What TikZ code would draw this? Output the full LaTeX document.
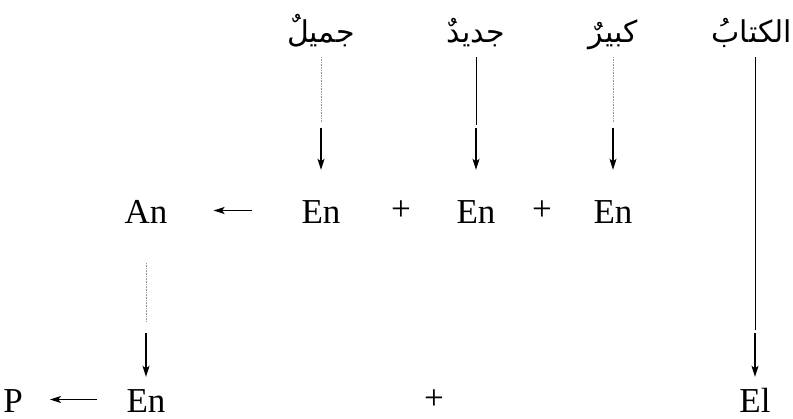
\documentclass[tikz,border=0pt]{standalone}
\usepackage{fontspec}
\setmainfont{Liberation Serif}
\newfontfamily\arabicfont[Script=Arabic]{DejaVu Sans}
\TeXXeTstate=1
\usetikzlibrary{arrows.meta}

\begin{document}
\begin{tikzpicture}[
    x=1pt, y=-1pt,
    word/.style={font=\arabicfont\fontsize{30}{34}\selectfont, inner sep=0pt, text depth=15pt, anchor=base},
    cat/.style={font=\fontsize{35}{40}\selectfont, inner sep=0pt, text height=25pt, text depth=0pt, anchor=base},
    plus/.style={font=\fontsize{35}{40}\selectfont, inner sep=0pt, anchor=base},
    arrow/.style={-{Stealth[length=11pt,width=7pt,inset=2.5pt]}, line width=1.2pt},
    stem/.style={line width=0.9pt},
    guide/.style={line width=0.6pt, black!40, densely dotted},
]
    \useasboundingbox (0,0) rectangle (793,418);

    % Arabic words
    \node[word] (jamil) at (321,42) {\beginR جميلٌ\endR};
    \node[word] (jadid) at (476,42) {\beginR جديدٌ\endR};
    \node[word] (kabir) at (613,42) {\beginR كبيرٌ\endR};
    \node[word] (kitab) at (752,42) {\beginR الكتابُ\endR};

    % middle row
    \node[cat] (an) at (146,223) {An};
    \node[cat] (en1) at (321,223) {En};
    \node[plus] (plus1) at (401,220) {+};
    \node[cat] (en2) at (476,223) {En};
    \node[plus] (plus2) at (542,220) {+};
    \node[cat] (en3) at (613,223) {En};

    % bottom row
    \node[cat] (p) at (13,412) {P};
    \node[cat] (en4) at (146,412) {En};
    \node[plus] (plus3) at (434,409) {+};
    \node[cat] (el) at (755,412) {El};

    % words down to the middle row
    \draw[guide, shorten >=76pt] (jamil) -- (en1);
    \draw[arrow, shorten <=71pt, shorten >=28pt] (jamil) -- (en1);
    \draw[stem, shorten >=73pt] (jadid) -- (en2);
    \draw[arrow, shorten <=71pt, shorten >=28pt] (jadid) -- (en2);
    \draw[guide, shorten >=76pt] (kabir) -- (en3);
    \draw[arrow, shorten <=71pt, shorten >=28pt] (kabir) -- (en3);

    % down to the bottom row
    \draw[guide, shorten <=40pt, shorten >=65pt] (an) -- (en4);
    \draw[arrow, shorten <=110pt, shorten >=10pt] (an) -- (en4);
    \draw[stem, shorten >=57pt] (kitab.south -| el) -- (el);
    \draw[arrow, shorten <=276pt, shorten >=10pt] (kitab.south -| el) -- (el);

    % leftward arrows
    \draw[arrow, shorten <=49pt, shorten >=46pt] (en1) -- (an);
    \draw[arrow, shorten <=29pt, shorten >=27pt] (en4) -- (p);
\end{tikzpicture}
\end{document}
